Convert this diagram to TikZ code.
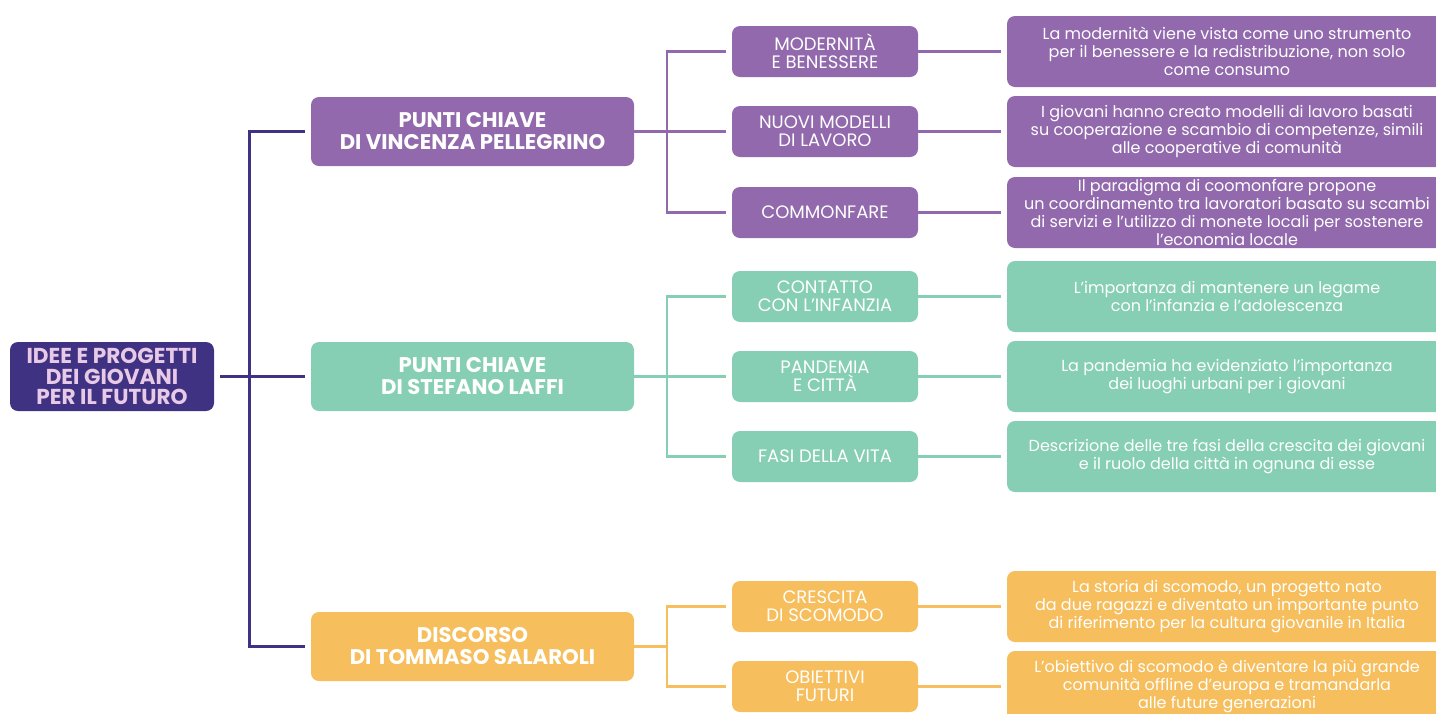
\documentclass[tikz,border=0pt]{standalone}
\usepackage{fontspec}
\setmainfont{Poppins}
\usetikzlibrary{positioning}

\definecolor{radice}{HTML}{3F3282}
\definecolor{rosatxt}{HTML}{E8C9E6}
\definecolor{viola}{HTML}{9169AC}
\definecolor{verde}{HTML}{86CFB5}
\definecolor{giallo}{HTML}{F6BE5C}

\tikzset{
  box/.style={rectangle, rounded corners=4pt, inner sep=0pt, align=center, text=white},
  rootbox/.style={box, fill=radice, text=rosatxt, minimum width=102pt, minimum height=34.5pt,
    font=\bfseries\fontsize{10.8}{10.25}\selectfont},
  mainbox/.style={box, fill=#1, minimum width=161.5pt, minimum height=34.5pt,
    font=\bfseries\fontsize{10.6}{11}\selectfont},
  subbox/.style={box, fill=#1, minimum width=93pt, minimum height=25.5pt,
    font=\fontsize{9}{9}\selectfont},
  leafbox/.style={box, fill=#1, minimum width=220pt, minimum height=35.5pt,
    font=\fontsize{8}{9}\selectfont},
  link/.style={draw=#1, line width=1.25pt, shorten <=3pt, shorten >=3pt}
}

\begin{document}
\begin{tikzpicture}[x=0.5pt, y=-0.5pt]

		\useasboundingbox (0,0) rectangle (1436,713);
		\clip (0,0) rectangle (1436,713);

		\node[rootbox] (root) at (112,376.5) {IDEE E PROGETTI\\DEI GIOVANI\\PER IL FUTURO};

		\node[mainbox=viola] (vp) at (472.5,131.5) {PUNTI CHIAVE\\DI VINCENZA PELLEGRINO};
		\node[mainbox=verde] (sl) at (472.5,376.5) {PUNTI CHIAVE\\DI STEFANO LAFFI};
		\node[mainbox=giallo] (ts) at (472.5,646.5) {DISCORSO\\DI TOMMASO SALAROLI};

		\node[subbox=viola] (s1) at (825,51.5) {MODERNITÀ\\E BENESSERE};
		\node[subbox=viola] (s2) at (825,131.5) {NUOVI MODELLI\\DI LAVORO};
		\node[subbox=viola] (s3) at (825,212.5) {COMMONFARE};
		\node[subbox=verde] (s4) at (825,296.5) {CONTATTO\\CON L’INFANZIA};
		\node[subbox=verde] (s5) at (825,376.5) {PANDEMIA\\E CITTÀ};
		\node[subbox=verde] (s6) at (825,456.5) {FASI DELLA VITA};
		\node[subbox=giallo] (s7) at (825,606.5) {CRESCITA\\DI SCOMODO};
		\node[subbox=giallo] (s8) at (825,686.5) {OBIETTIVI\\FUTURI};

		\node[leafbox=viola] (d1) at (1227,51.5) {La modernità viene vista come uno strumento\\per il benessere e la redistribuzione, non solo\\come consumo};
		\node[leafbox=viola] (d2) at (1227,131.5) {I giovani hanno creato modelli di lavoro basati\\su cooperazione e scambio di competenze, simili\\alle cooperative di comunità};
		\node[leafbox=viola] (d3) at (1227,212.5) {Il paradigma di coomonfare propone\\un coordinamento tra lavoratori basato su scambi\\di servizi e l’utilizzo di monete locali per sostenere\\l’economia locale};
		\node[leafbox=verde] (d4) at (1227,296.5) {L’importanza di mantenere un legame\\con l’infanzia e l’adolescenza};
		\node[leafbox=verde] (d5) at (1227,376.5) {La pandemia ha evidenziato l’importanza\\dei luoghi urbani per i giovani};
		\node[leafbox=verde] (d6) at (1227,456.5) {Descrizione delle tre fasi della crescita dei giovani\\e il ruolo della città in ognuna di esse};
		\node[leafbox=giallo] (d7) at (1227,606.5) {La storia di scomodo, un progetto nato\\da due ragazzi e diventato un importante punto\\di riferimento per la cultura giovanile in Italia};
		\node[leafbox=giallo] (d8) at (1227,686.5) {L’obiettivo di scomodo è diventare la più grande\\comunità offline d’europa e tramandarla\\alle future generazioni};

		% spine and brackets
		\coordinate (spine) at (249,376.5);
		\coordinate (bv) at (667,131.5);
		\coordinate (bs) at (667,376.5);
		\coordinate (bt) at (667,646.5);

		\draw[link=radice, line width=1.5pt] (vp.west) -| (spine) |- (ts.west);
		\draw[link=radice, line width=1.5pt] (root.east) -- (sl.west);

		\draw[link=viola] (s1.west) -| (bv) |- (s3.west);
		\draw[link=viola, shorten <=0pt] (vp.east) -- (s2.west);
		\draw[link=verde] (s4.west) -| (bs) |- (s6.west);
		\draw[link=verde, shorten <=0pt] (sl.east) -- (s5.west);
		\draw[link=giallo] (s7.west) -| (bt) |- (s8.west);
		\draw[link=giallo, shorten <=0pt, shorten >=0pt] (ts.east) -- (bt);

		\foreach \i/\c in {1/viola,2/viola,3/viola,4/verde,5/verde,6/verde,7/giallo,8/giallo}
		\draw[link=\c, shorten <=0pt] (s\i.east) -- (d\i.west);
	\end{tikzpicture}
\end{document}
